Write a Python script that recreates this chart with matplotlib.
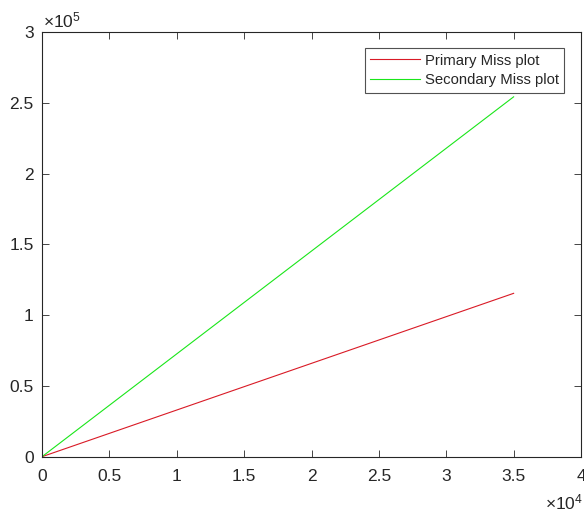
import matplotlib
matplotlib.use("Agg")
import matplotlib.pyplot as plt

plt.rcParams['font.family'] = ['Liberation Sans', 'DejaVu Sans']
plt.rcParams['mathtext.fontset'] = 'custom'
plt.rcParams['mathtext.rm'] = 'Liberation Sans'
plt.rcParams['mathtext.it'] = 'Liberation Sans'

x_vals = [0, 35000]
primary_miss = [0, 115400]
secondary_miss = [0, 254200]

x_ticks = [0, 5000, 10000, 15000, 20000, 25000, 30000, 35000, 40000]
x_tick_labels = ['0', '0.5', '1', '1.5', '2', '2.5', '3', '3.5', '4']
y_ticks = [0, 50000, 100000, 150000, 200000, 250000, 300000]
y_tick_labels = ['0', '0.5', '1', '1.5', '2', '2.5', '3']

fig = plt.figure(figsize=(5.84, 5.12), dpi=100)
ax = fig.add_axes([42/584, (512-456.7)/512, 539/584, 424.7/512])

ax.plot(x_vals, primary_miss, color=(0.85, 0.1, 0.15), lw=0.8, label='Primary Miss plot')
ax.plot(x_vals, secondary_miss, color=(0.1, 0.9, 0.1), lw=0.8, label='Secondary Miss plot')

ax.set_xlim(0, 40000)
ax.set_ylim(0, 300000)
ax.set_xticks(x_ticks)
ax.set_xticklabels(x_tick_labels)
ax.set_yticks(y_ticks)
ax.set_yticklabels(y_tick_labels)

axc = (0.15, 0.15, 0.15)
for s in ax.spines.values():
    s.set_color(axc)
    s.set_linewidth(0.8)
ax.tick_params(direction='in', length=5, width=0.6, color=axc, labelcolor=axc,
               labelsize=12.5, top=True, right=True)
ax.tick_params(axis='x', pad=9)
ax.tick_params(axis='y', pad=6)

fig.text(43/584, 1 - 27/512, r'$\times10^{5}$', fontsize=12.5, color=axc, ha='left', va='baseline')
fig.text(583/584, 1 - 509/512, r'$\times10^{4}$', fontsize=12.5, color=axc, ha='right', va='baseline')

leg = ax.legend(loc='upper right', bbox_to_anchor=(564/584, 1 - 48.3/512),
                bbox_transform=fig.transFigure, fontsize=10.7, frameon=True, fancybox=False,
                handlelength=3.35, handletextpad=0.3, borderpad=0.35, labelspacing=0.4,
                borderaxespad=0)
leg.get_frame().set_edgecolor(axc)
leg.get_frame().set_linewidth(0.8)
for t in leg.get_texts():
    t.set_color(axc)

fig.savefig('out.png', dpi=100)
